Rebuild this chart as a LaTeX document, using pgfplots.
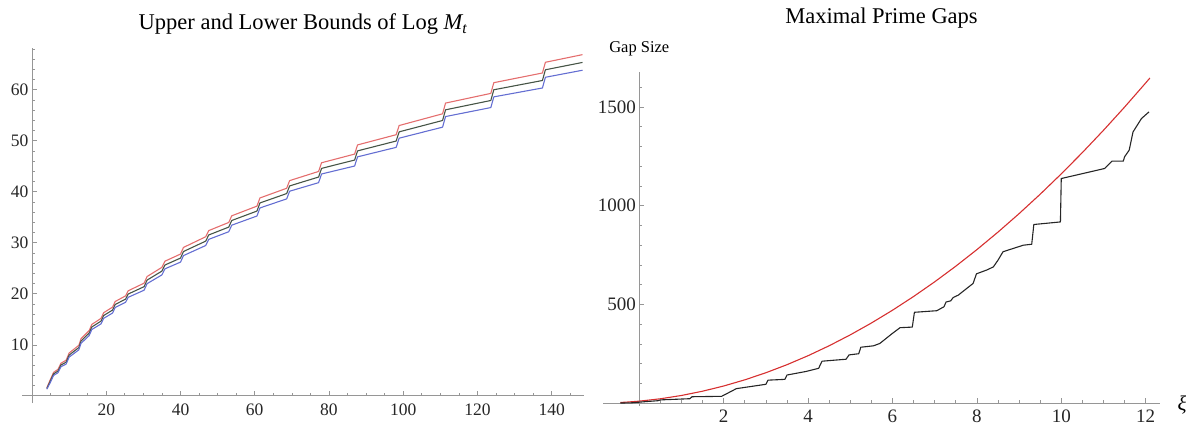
\documentclass[border=0pt]{standalone}
\usepackage{fontspec}
\setmainfont{Liberation Serif}
\usepackage{pgfplots}
\pgfplotsset{compat=1.18}
\definecolor{lred}{RGB}{228,110,110}
\definecolor{lgreen}{RGB}{70,84,70}
\definecolor{lblue}{RGB}{100,110,210}
\definecolor{rred}{RGB}{214,48,48}
\definecolor{axgray}{RGB}{150,150,150}
\pgfplotsset{mma/.style={
  axis lines=middle,
  axis line style={-,draw=axgray,line width=0.8pt},
  scale only axis,
  tick align=inside,
  major tick length=5pt, minor tick length=3pt,
  every tick/.append style={axgray,line width=0.7pt},
  /pgf/number format/assume math mode=true,
  /pgf/number format/set thousands separator={},
  scaled ticks=false,
  clip=false,
  tick label style={text=black!85},
}}
\begin{document}
\begin{tikzpicture}
\path[use as bounding box] (0pt,0pt) rectangle (1186pt,-430pt);
\begin{axis}[mma, at={(22pt,-403pt)}, anchor=south west, width=562pt, height=355pt,
  xmin=-2.7, xmax=148.7, ymin=-1.4, ymax=68.2,
  xtick={20,40,...,140}, ytick={10,20,...,60},
  minor xtick={5,10,...,145}, minor ytick={2,4,...,68},
  tick label style={font=\fontsize{17.5}{19}\selectfont},
  x tick label style={yshift=-4pt},
  title={Upper and Lower Bounds of Log \textit{M\textsubscript{t}}},
  every axis title/.style={at={(axis description cs:0.5,1)}, anchor=base, yshift=18pt, font=\fontsize{22.5}{26}\selectfont},
]
\addplot[lred, line width=1.1pt, line join=round] coordinates {
(4.0,1.6) (5.0,3.3) (5.8,4.6) (7.0,5.2) (7.8,6.4) (9.2,7.0) (10.0,8.4)
(12.6,9.9) (13.2,11.2) (15.4,12.8) (16.1,14.0) (18.6,15.2) (19.3,16.3)
(21.7,17.4) (22.4,18.5) (25.2,19.6) (25.9,20.6) (30.2,22.1) (31.0,23.4)
(35.0,25.2) (35.8,26.4) (40.0,27.8) (40.8,29.1) (46.8,31.2) (47.6,32.4)
(53.0,34.0) (53.8,35.3) (60.6,37.2) (61.4,38.8) (68.6,40.7) (69.4,42.2)
(77.2,44.0) (78.0,45.7) (86.9,47.4) (87.7,49.2) (98.1,51.2) (98.9,53.0)
(110.6,55.3) (111.4,57.4) (123.6,59.3) (124.4,61.4) (137.5,63.3) (138.3,65.4)
(148.3,66.9)
};
\addplot[lgreen, line width=1.1pt, line join=round] coordinates {
(4.0,1.45) (5.0,3.02) (5.8,4.30) (7.0,4.87) (7.8,6.05) (9.2,6.62) (10.0,8.00)
(12.6,9.46) (13.2,10.75) (15.4,12.31) (16.1,13.50) (18.6,14.66) (19.3,15.75)
(21.7,16.82) (22.4,17.91) (25.2,18.97) (25.9,19.96) (30.2,21.41) (31.0,22.70)
(35.0,24.46) (35.8,25.65) (40.0,27.01) (40.8,28.30) (46.8,30.34) (47.6,31.54)
(53.0,33.09) (53.8,34.38) (60.6,36.23) (61.4,37.82) (68.6,39.66) (69.4,41.16)
(77.2,42.90) (78.0,44.60) (86.9,46.23) (87.7,48.03) (98.1,49.96) (98.9,51.76)
(110.6,53.99) (111.4,56.08) (123.6,57.91) (124.4,60.01) (137.5,61.83) (138.3,63.93)
(148.3,65.37)
};
\addplot[lblue, line width=1.1pt, line join=round] coordinates {
(4.0,1.3) (5.0,2.74) (5.8,4.00) (7.0,4.54) (7.8,5.70) (9.2,6.24) (10.0,7.60)
(12.6,9.02) (13.2,10.30) (15.4,11.82) (16.1,13.00) (18.6,14.12) (19.3,15.20)
(21.7,16.24) (22.4,17.32) (25.2,18.34) (25.9,19.32) (30.2,20.72) (31.0,22.00)
(35.0,23.72) (35.8,24.90) (40.0,26.22) (40.8,27.50) (46.8,29.48) (47.6,30.68)
(53.0,32.18) (53.8,33.46) (60.6,35.26) (61.4,36.84) (68.6,38.62) (69.4,40.12)
(77.2,41.80) (78.0,43.50) (86.9,45.06) (87.7,46.86) (98.1,48.72) (98.9,50.52)
(110.6,52.68) (111.4,54.76) (123.6,56.52) (124.4,58.62) (137.5,60.36) (138.3,62.46)
(148.3,63.84)
};
\end{axis}
\begin{axis}[mma, at={(603pt,-406pt)}, anchor=south west, width=557pt, height=334pt,
  xmin=-0.86, xmax=12.34, ymin=-15, ymax=1678,
  xtick={2,4,...,12}, ytick={500,1000,1500},
  minor xtick={0.5,1,...,12}, minor ytick={100,200,...,1600},
  tick label style={font=\fontsize{19}{21}\selectfont},
  x tick label style={yshift=-3pt},
  title={Maximal Prime Gaps},
  every axis title/.style={at={(axis description cs:0.5,1)}, anchor=base, yshift=48.4pt, font=\fontsize{22.5}{26}\selectfont},
  xlabel={\textit{ξ}}, ylabel={Gap Size},
  every axis x label/.style={at={(axis description cs:1,0.00886)}, anchor=base west, xshift=14pt, yshift=-7pt, font=\fontsize{21}{24}\selectfont},
  every axis y label/.style={at={(axis description cs:0.0652,1)}, anchor=base, yshift=19.7pt, font=\fontsize{16.5}{18}\selectfont},
]
\addplot[rred, line width=1.1pt] coordinates {
(-0.45,2.9) (-0.3,4.7) (0,9.6) (0.5,21.6) (1,38.4) (1.5,60.0) (2,86.4)
(2.5,117.6) (3,153.6) (3.5,194.4) (4,240.0) (4.5,290.4) (5,345.6)
(5.5,405.6) (6,470.4) (6.5,540.0) (7,614.4) (7.5,693.6) (8,777.6)
(8.5,866.4) (9,960.0) (9.5,1058.4) (10,1161.6) (10.5,1269.6) (11,1382.4)
(11.5,1500.0) (12,1622.4) (12.1,1647.5)
};
\addplot[black!85, line width=1.1pt, line join=round] coordinates {
(-0.45,0) (-0.2,1) (0.2,8) (0.45,12) (0.5,16) (1.2,22) (1.25,32) (1.95,34)
(2.05,45) (2.3,73) (3.0,95) (3.05,116) (3.45,120) (3.5,142) (3.95,160)
(4.25,176) (4.33,212) (4.55,216) (4.9,222) (4.97,244) (5.2,250) (5.25,283)
(5.55,290) (5.7,302) (5.98,350) (6.18,382) (6.47,385) (6.52,460) (7.05,468)
(7.22,488) (7.27,512) (7.38,518) (7.44,535) (7.56,547) (7.76,581) (7.91,606)
(7.99,655) (8.23,674) (8.39,690) (8.5,724) (8.62,767) (9.1,800) (9.3,805)
(9.35,905) (9.98,918) (10.0,1138) (11.03,1189) (11.2,1226) (11.47,1226)
(11.5,1248) (11.61,1282) (11.7,1374) (11.9,1442) (12.08,1476)
};
\end{axis}
\end{tikzpicture}
\end{document}
